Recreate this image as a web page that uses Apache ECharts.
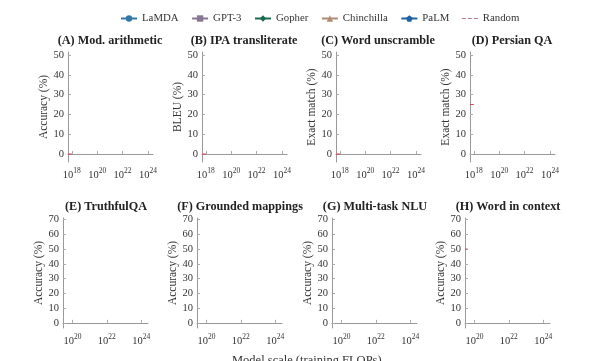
<!DOCTYPE html>
<html><head><meta charset="utf-8">
<script src="https://cdn.jsdelivr.net/npm/echarts@6/dist/echarts.min.js"></script>
<style>html,body{margin:0;padding:0;background:#fff}#c{width:600px;height:361px}</style>
</head><body><div id="c"></div>
<script>
const panelTitles = ['(A) Mod. arithmetic','(B) IPA transliterate','(C) Word unscramble','(D) Persian QA',
  '(E) TruthfulQA','(F) Grounded mappings','(G) Multi-task NLU','(H) Word in context'];
const yNames = ['Accuracy (%)','BLEU (%)','Exact match (%)','Exact match (%)',
  'Accuracy (%)','Accuracy (%)','Accuracy (%)','Accuracy (%)'];
const xTicksTop = [18,20,22,24];
const xTicksBottom = [20,22,24];
const yTicksTop = [0,10,20,30,40,50];
const yTicksBottom = [0,10,20,30,40,50,60,70];
// random-chance baseline per panel (only visible part of the animation frame)
const randomY = [0,0,0,25,null,null,null,50];
const randomXTop = [17.7,18.0];
const randomXBottom = [19.45,19.6];
// model series: no points drawn yet in this frame
const lamdaData = [];
const gpt3Data = [];
const gopherData = [];
const chinchillaData = [];
const palmData = [];

const SERIF = '"Liberation Serif","DejaVu Serif",serif';
const chart = echarts.init(document.getElementById('c'), null, {renderer:'canvas'});
const grids=[], xAxes=[], yAxes=[], titles=[], series=[];
const topLefts=[68,202,336,470], botLefts=[63,197,332,465];
for(let i=0;i<8;i++){
  const top = i<4;
  const left = top? topLefts[i] : botLefts[i-4];
  const gtop = top? 52 : 218;
  grids.push({left:left, top:gtop, width:85, height:110, containLabel:false});
  const xt = top? xTicksTop : xTicksBottom;
  xAxes.push({type:'value', gridIndex:i, min: top?17.7:19.45, max:24.4,
    axisLine:{show:true,lineStyle:{color:'#999',width:1}},
    axisTick:{show:true,inside:true,length:3,customValues:xt,lineStyle:{color:'#aaa'}},
    axisLabel:{customValues:xt,margin:5,color:'#333',fontFamily:SERIF,
      formatter:v=>'{b|10}{s|'+Math.round(v)+'}',
      rich:{b:{fontSize:10.5,fontFamily:SERIF,color:'#333',verticalAlign:'bottom',lineHeight:14},
            s:{fontSize:7.5,fontFamily:SERIF,color:'#333',verticalAlign:'top',lineHeight:14,padding:[0,0,6,0]}}},
    splitLine:{show:false}});
  const yt = top? yTicksTop : yTicksBottom;
  yAxes.push({type:'value', gridIndex:i, min: top?-4:-3.5, max: top?51.5:71,
    name:yNames[i], nameLocation:'middle', nameGap:17,
    nameTextStyle:{fontFamily:SERIF,fontSize:11.5,color:'#333'},
    axisLine:{show:true,lineStyle:{color:'#999',width:1}},
    axisTick:{show:true,inside:true,length:3,customValues:yt,lineStyle:{color:'#aaa'}},
    axisLabel:{customValues:yt,margin:4,color:'#333',fontFamily:SERIF,fontSize:10.5},
    splitLine:{show:false}});
  titles.push({text:panelTitles[i], left:left+(top?37:38), top: top?30:196, textAlign:'center',
    textStyle:{fontFamily:SERIF,fontWeight:'bold',fontSize:12.2,color:'#222'}});
  const rx = top? randomXTop : randomXBottom;
  series.push({name:'Random', type:'line', xAxisIndex:i, yAxisIndex:i, symbol:'none',
    lineStyle:{type:'dashed',color:'#cc4a5e',width:1.2}, itemStyle:{color:'#cc4a5e'},
    data: randomY[i]===null? [] : rx.map(x=>[x,randomY[i]])});
}
const models = [
  {name:'LaMDA', data:lamdaData, color:'#2f78a8', symbol:'circle', size:5},
  {name:'GPT-3', data:gpt3Data, color:'#8a7690', symbol:'rect', size:5},
  {name:'Gopher', data:gopherData, color:'#1d6b4e', symbol:'diamond', size:7},
  {name:'Chinchilla', data:chinchillaData, color:'#b08b74', symbol:'triangle', size:6},
  {name:'PaLM', data:palmData, color:'#1f63a3', symbol:'path://M0,-10 L9.5,-3.1 L5.9,8.1 L-5.9,8.1 L-9.5,-3.1 Z', size:8}
];
models.forEach(m=>{
  series.unshift({name:m.name, type:'line', xAxisIndex:0, yAxisIndex:0, symbol:m.symbol, symbolSize:m.size,
    lineStyle:{color:m.color,width:1.5}, itemStyle:{color:m.color}, data:m.data});
});
chart.setOption({
  animation:false,
  title:titles,
  legend:{top:8, left:115, itemWidth:16, itemHeight:8, itemGap:12.5,
    data:['LaMDA','GPT-3','Gopher','Chinchilla','PaLM',
      {name:'Random', icon:'path://M0,0 M0,8 M0,3.4 h4 v1.2 h-4z M6,3.4 h4 v1.2 h-4z M12,3.4 h4 v1.2 h-4z M16,0',
       itemStyle:{color:'#b77a86'}}],
    textStyle:{fontFamily:SERIF,fontSize:10.8,color:'#333'}},
  grid:grids, xAxis:xAxes, yAxis:yAxes, series:series,
  graphic:[{type:'text', left:232, top:354, style:{text:'Model scale (training FLOPs)',
    font:'12.5px '+SERIF, fill:'#333'}}]
});
</script></body></html>
